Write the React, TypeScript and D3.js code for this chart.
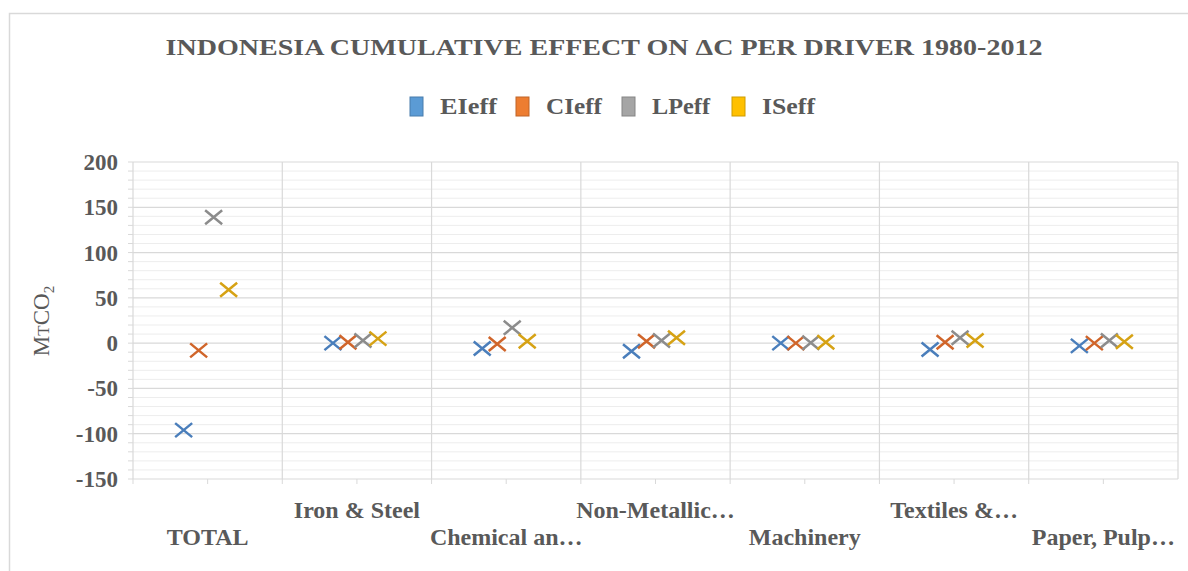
import React from "react";
import * as d3 from "d3";

// Sectors (x categories) and the cumulative effect of each driver, MtCO2
const categories = [
  "TOTAL",
  "Iron & Steel",
  "Chemical an…",
  "Non-Metallic…",
  "Machinery",
  "Textiles &…",
  "Paper, Pulp…",
];
const seriesNames = ["EIeff", "CIeff", "LPeff", "ISeff"];
const EIeff = [-96, 0, -6, -9, 0, -7, -3];
const CIeff = [-8, 1, -1, 2, 0, 1, 0];
const LPeff = [139, 3, 17, 3, 0.5, 6, 3];
const ISeff = [59, 5, 2, 6, 1, 3, 1.5];
const seriesValues = [EIeff, CIeff, LPeff, ISeff];
const yTicks = [200, 150, 100, 50, 0, -50, -100, -150];

const legendColors = ["#5b9bd5", "#ed7d31", "#a5a5a5", "#ffc000"];
const markerColors = ["#4a7ebb", "#d0652a", "#8c8c8c", "#d6a214"];

const W = 1188;
const H = 571;
const plot = { left: 133, right: 1178, top: 162, bottom: 479 };
const textColor = "#595959";
const font = "'Liberation Serif', 'Times New Roman', serif";

// legend layout: swatch x and label widths
const legendX = [410, 516, 622, 732];
const legendW = [57, 56, 58, 53];

export default function App() {
  const x = d3
    .scaleBand<string>()
    .domain(categories)
    .range([plot.left, plot.right]);
  // offset of each series inside its category
  const inner = d3
    .scalePoint<string>()
    .domain(seriesNames)
    .range([-24, 21]);
  const y = d3.scaleLinear().domain([-150, 200]).range([plot.bottom, plot.top]);

  const minorTicks = d3.range(-150, 201, 10);
  const armX = 8.5;
  const armY = 7;

  return (
    <div style={{ position: "absolute", left: 0, top: 0 }}>
      <svg width={W} height={H} style={{ display: "block" }}>
        <rect x={0} y={0} width={W} height={H} fill="#ffffff" />
        {/* chart area frame */}
        <rect
          x={9.5}
          y={13.5}
          width={W + 10}
          height={H + 10}
          fill="#ffffff"
          stroke="#d9d9d9"
          strokeWidth={1.5}
        />

        {/* title */}
        <text
          x={604}
          y={55}
          textAnchor="middle"
          fontFamily={font}
          fontWeight="bold"
          fontSize={24}
          fill={textColor}
          textLength={877}
          lengthAdjust="spacingAndGlyphs"
        >
          INDONESIA CUMULATIVE  EFFECT ON ΔC PER DRIVER 1980-2012
        </text>

        {/* legend */}
        {seriesNames.map((name, i) => {
          const lx = legendX[i];
          return (
            <g key={name}>
              <rect
                x={lx}
                y={97}
                width={13}
                height={19}
                fill={legendColors[i]}
                stroke={d3.color(legendColors[i])!.darker(0.6).toString()}
                strokeWidth={1}
              />
              <text
                x={lx + 30}
                y={114}
                fontFamily={font}
                fontWeight="bold"
                fontSize={23}
                fill={textColor}
                textLength={legendW[i]}
                lengthAdjust="spacingAndGlyphs"
              >
                {name}
              </text>
            </g>
          );
        })}

        {/* minor horizontal grid */}
        {minorTicks
          .filter((t) => t % 50 !== 0)
          .map((t) => (
            <line
              key={"mg" + t}
              x1={plot.left}
              x2={plot.right}
              y1={y(t)}
              y2={y(t)}
              stroke="#ededed"
              strokeWidth={1}
            />
          ))}
        {/* major horizontal grid */}
        {yTicks.map((t) => (
          <line
            key={"g" + t}
            x1={plot.left}
            x2={plot.right}
            y1={y(t)}
            y2={y(t)}
            stroke="#d9d9d9"
            strokeWidth={1.2}
          />
        ))}
        {/* vertical category grid */}
        {categories.map((c) => (
          <line
            key={"v" + c}
            x1={x(c)!}
            x2={x(c)!}
            y1={plot.top}
            y2={plot.bottom}
            stroke="#d9d9d9"
            strokeWidth={1.2}
          />
        ))}
        <line
          x1={plot.right}
          x2={plot.right}
          y1={plot.top}
          y2={plot.bottom}
          stroke="#d9d9d9"
          strokeWidth={1.2}
        />

        {/* y axis minor tick marks */}
        {minorTicks.map((t) => (
          <line
            key={"yt" + t}
            x1={plot.left - 5}
            x2={plot.left}
            y1={y(t)}
            y2={y(t)}
            stroke="#d9d9d9"
            strokeWidth={1}
          />
        ))}
        {/* x axis ticks */}
        {categories.map((c) => (
          <g key={"xt" + c}>
            <line
              x1={x(c)!}
              x2={x(c)!}
              y1={plot.bottom}
              y2={plot.bottom + 5}
              stroke="#d9d9d9"
            />
            <line
              x1={x(c)! + x.bandwidth() / 2}
              x2={x(c)! + x.bandwidth() / 2}
              y1={plot.bottom}
              y2={plot.bottom + 5}
              stroke="#d9d9d9"
            />
          </g>
        ))}

        {/* y tick labels */}
        {yTicks.map((t) => (
          <text
            key={"yl" + t}
            x={118}
            y={y(t) + 8}
            textAnchor="end"
            fontFamily={font}
            fontWeight="bold"
            fontSize={23}
            fill={textColor}
          >
            {t}
          </text>
        ))}

        {/* y axis title */}
        <text
          transform={`translate(49, 321) rotate(-90)`}
          textAnchor="middle"
          fontFamily={font}
          fontSize={23}
          fill={textColor}
        >
          M<tspan fontSize={17}>T</tspan>CO
          <tspan fontSize={15} dy={5}>
            2
          </tspan>
        </text>

        {/* x category labels, staggered on two rows */}
        {categories.map((c, i) => (
          <text
            key={"xl" + c}
            x={x(c)! + x.bandwidth() / 2}
            y={i % 2 === 0 ? 545 : 518}
            textAnchor="middle"
            fontFamily={font}
            fontWeight="bold"
            fontSize={24}
            fill={textColor}
          >
            {c}
          </text>
        ))}

        {/* markers */}
        {seriesValues.map((vals, si) => (
          <g key={"s" + si} stroke={markerColors[si]} strokeWidth={2.5}>
            {vals.map((v, ci) => {
              const cx = x(categories[ci])! + x.bandwidth() / 2 + inner(seriesNames[si])!;
              const cy = y(v);
              return (
                <path
                  key={ci}
                  d={`M${cx - armX},${cy - armY}L${cx + armX},${cy + armY}M${cx - armX},${cy + armY}L${cx + armX},${cy - armY}`}
                  fill="none"
                />
              );
            })}
          </g>
        ))}
      </svg>
    </div>
  );
}
